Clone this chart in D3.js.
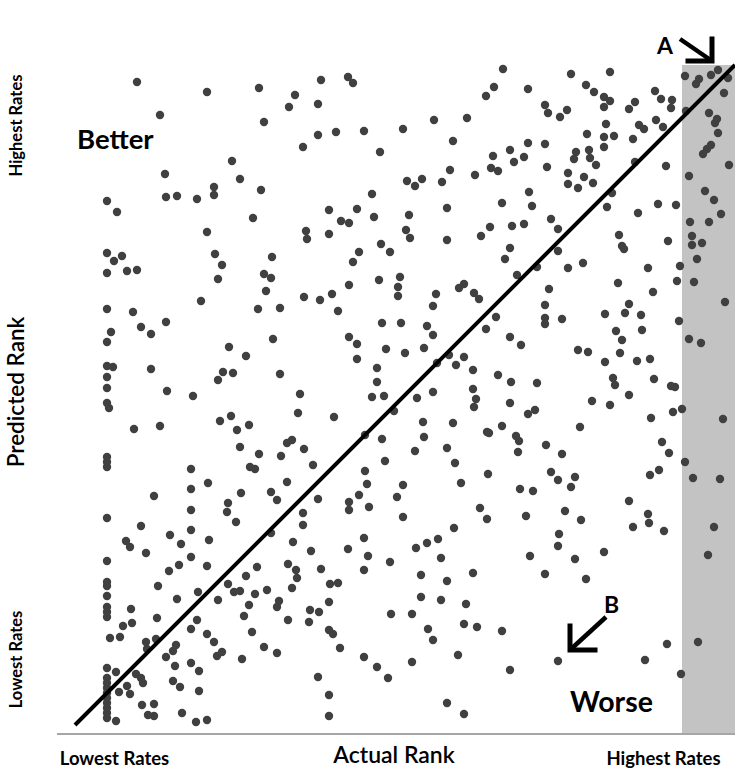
<!DOCTYPE html>
<html><head><meta charset="utf-8">
<script src="https://cdn.jsdelivr.net/npm/d3@7"></script>
<style>html,body{margin:0;padding:0;background:#fff}svg{display:block}text{font-family:Lato,"Liberation Sans",sans-serif}</style>
</head><body><svg id="c" width="735" height="768"></svg>
<script>
// Actual rank (x) and predicted rank (y) for each hospital, rank scale 0..660
const actual = [62,132,85,90,32,42,91,102,122,139,139,132,32,39,47,32,52,62,140,147,143,
184,246,273,278,220,214,243,189,243,261,289,228,305,157,165,186,297,178,254,282,299,266,274,231,232,254,306,315,284,278,197,189,196,304,
428,419,411,453,470,473,485,492,328,359,392,378,453,470,435,418,449,439,472,416,423,375,400,367,332,340,347,493,493,454,427,457,372,334,331,335,372,406,415,437,449,476,483,435,430,483,462,442,325,493,
496,535,511,519,529,535,529,560,554,580,586,597,596,610,624,621,636,643,653,649,611,634,642,640,643,531,564,569,581,588,512,529,539,558,529,501,499,514,515,521,560,591,636,632,628,654,509,503,518,614,537,532,583,601,563,630,639,646,615,634,544,547,549,593,617,617,627,622,605,573,508,
126,32,58,91,66,76,36,32,32,38,76,32,32,92,118,143,148,32,34,59,85,145,32,32,32,116,133,116,79,153,
191,229,245,257,274,183,205,263,307,323,323,198,154,171,274,282,311,282,158,205,302,302,297,309,225,223,259,156,162,174,165,212,217,229,184,206,238,175,180,212,166,196,202,243,290,307,310,290,292,284,274,274,294,322,
384,389,361,399,404,358,474,470,470,470,487,421,411,326,352,358,435,446,349,330,374,389,362,381,398,423,436,462,398,358,342,401,399,435,319,453,460,348,378,412,414,427,441,444,349,340,372,443,471,487,380,413,476,483,386,328,445,458,405,
543,602,619,578,650,554,530,550,566,604,541,567,547,614,626,503,513,545,530,562,575,538,540,579,596,600,554,517,535,598,607,576,648,505,587,594,610,618,645,500,496,575,584,554,
116,152,161,32,66,116,95,106,134,51,55,71,116,32,104,94,132,32,32,83,32,123,102,143,32,32,32,56,57,48,82,122,116,35,45,132,139,71,72,81,101,98,91,142,147,32,41,32,32,32,32,32,32,32,32,32,61,66,68,52,44,55,100,116,124,98,105,124,67,79,73,79,41,107,121,132,
228,228,196,218,236,289,273,293,315,289,182,171,213,221,222,246,153,159,165,180,192,217,255,263,254,174,204,202,169,235,244,213,234,316,177,254,258,189,202,265,167,289,302,313,243,254,254,
328,412,451,490,379,363,352,341,366,484,483,455,470,398,346,372,346,366,391,337,353,358,389,402,427,383,337,435,483,372,389,
506,573,574,558,589,639,633,529,500,511,592,623,570,606];
const predicted = [643,633,610,551,524,513,528,529,526,538,530,493,472,464,469,452,454,455,471,460,446,
637,645,648,642,630,618,621,603,590,593,594,578,573,564,546,535,531,507,515,516,508,504,502,494,486,491,481,473,473,463,468,451,447,445,
656,638,629,636,620,612,608,615,596,605,607,584,582,581,575,569,568,563,558,557,554,555,550,543,544,539,546,552,541,533,522,519,517,510,495,487,485,489,498,499,501,506,496,477,466,474,458,450,448,457,
651,653,640,633,628,624,618,623,616,634,626,625,617,649,646,641,650,655,647,632,614,612,606,602,592,601,600,596,605,598,591,588,589,586,578,573,566,575,567,560,563,559,580,576,571,560,548,537,542,549,532,518,521,520,512,534,525,511,503,503,490,479,476,484,489,480,482,466,459,457,462,
424,416,413,403,398,391,393,383,359,358,356,348,337,334,329,345,353,322,317,296,299,304,268,263,258,256,242,236,229,222,
434,428,425,431,440,416,417,414,402,438,429,386,378,369,388,381,376,366,352,351,357,343,328,329,331,312,308,309,295,300,278,282,285,276,271,269,260,258,256,243,232,233,225,226,290,286,264,254,241,230,223,215,218,228,
437,441,431,432,426,419,436,420,407,401,406,408,396,402,399,390,388,380,377,372,370,368,362,360,355,350,343,342,336,333,327,326,318,322,314,311,315,303,302,293,292,299,289,284,288,274,277,273,280,271,262,251,253,245,242,240,236,234,217,
442,444,443,433,423,421,411,412,410,404,394,395,385,386,382,375,373,372,363,364,366,347,340,346,339,338,330,324,320,313,316,307,306,298,283,272,263,247,246,248,238,250,255,224,
215,213,203,207,199,195,190,181,185,184,178,172,168,164,160,154,159,143,139,139,129,133,126,125,118,113,108,116,102,99,107,105,96,87,88,91,83,83,76,86,80,74,68,69,73,57,53,47,42,37,32,27,22,17,12,7,51,47,42,39,33,31,59,62,54,44,38,34,20,21,10,9,4,12,3,5,
212,200,192,183,174,187,176,169,163,155,158,149,161,155,147,156,141,133,134,131,135,137,141,142,123,120,124,118,109,115,113,105,103,111,93,95,91,78,72,77,66,68,58,47,48,30,9,
208,206,209,214,197,186,182,177,167,191,179,169,151,152,150,144,128,125,121,111,96,85,101,98,94,70,63,55,64,22,11,
205,211,202,198,194,198,170,173,166,146,81,83,65,51];
const xTickLabels = ["Lowest Rates","Highest Rates"];
const xTickValues = [39,588];
const yTickLabels = ["Lowest Rates","Highest Rates"];
const yTickValues = [66,600];
const xTitle = "Actual Rank";
const yTitle = "Predicted Rank";
const regionLabels = ["Better","Worse"];
const highlightFrom = 607; // actual rank where shaded band starts

const svg = d3.select("#c");
const x = d3.scaleLinear().domain([0,660]).range([75,735]);
const y = d3.scaleLinear().domain([0,660]).range([725,65]);

// shaded band
svg.append("rect").attr("x",x(highlightFrom)).attr("y",y(660)).attr("width",x(660)-x(highlightFrom)).attr("height",734-y(660)).attr("fill","#c3c3c3");
// bottom baseline
svg.append("line").attr("x1",57).attr("x2",735).attr("y1",734).attr("y2",734).attr("stroke","#a6a6a6").attr("stroke-width",2);

const pts = actual.map((a,i)=>({a, p:predicted[i]}));
svg.append("g").selectAll("circle").data(pts).join("circle")
  .attr("cx",d=>x(d.a)).attr("cy",d=>y(d.p)).attr("r",4.2).attr("fill","#404040");

// diagonal
svg.append("line").attr("x1",x(0)).attr("y1",y(0)).attr("x2",x(660)).attr("y2",y(660)).attr("stroke","#000").attr("stroke-width",4);

// axes (labels only)
const xa = svg.append("g").attr("transform","translate(0,749)")
  .call(d3.axisBottom(x).tickValues(xTickValues).tickFormat((d,i)=>xTickLabels[i]).tickSize(0));
xa.select(".domain").remove();
xa.selectAll("text").attr("font-size",18.5).attr("font-weight","bold").attr("fill","#000").attr("font-family","Lato, sans-serif");
const ya = svg.append("g").attr("transform","translate(16,0)")
  .call(d3.axisLeft(y).tickValues(yTickValues).tickFormat((d,i)=>yTickLabels[i]).tickSize(0));
ya.select(".domain").remove();
ya.selectAll("text").attr("font-size",16.5).attr("font-weight","bold").attr("fill","#000").attr("font-family","Lato, sans-serif")
  .attr("text-anchor","middle").attr("x",0).attr("dy",0)
  .attr("transform","rotate(-90) translate(0,6)");

svg.append("text").attr("x",394).attr("y",763).attr("text-anchor","middle").attr("font-size",23).attr("font-weight",600).text(xTitle);
svg.append("text").attr("transform","translate(24,392) rotate(-90)").attr("text-anchor","middle").attr("font-size",22.5).attr("font-weight",600).text(yTitle);

svg.append("text").attr("x",77).attr("y",149).attr("font-size",27.5).attr("font-weight","bold").text(regionLabels[0]);
svg.append("text").attr("x",570).attr("y",712).attr("font-size",28.5).attr("font-weight","bold").text(regionLabels[1]);

// annotation arrows
svg.append("text").attr("x",657).attr("y",54).attr("font-size",23).attr("font-weight","bold").text("A");
svg.append("text").attr("x",604).attr("y",613).attr("font-size",23).attr("font-weight","bold").text("B");
const arrow = (x1,y1,x2,y2,hx,hy) => {
  svg.append("line").attr("x1",x1).attr("y1",y1).attr("x2",x2).attr("y2",y2).attr("stroke","#000").attr("stroke-width",4.5);
  svg.append("path").attr("d",`M${x2+hx},${y2} L${x2},${y2} L${x2},${y2+hy}`).attr("fill","none").attr("stroke","#000").attr("stroke-width",5).attr("stroke-linecap","square");
};
arrow(606,617,570,650,25,-24);
arrow(680,39,712,61,-24,-22);
</script></body></html>
